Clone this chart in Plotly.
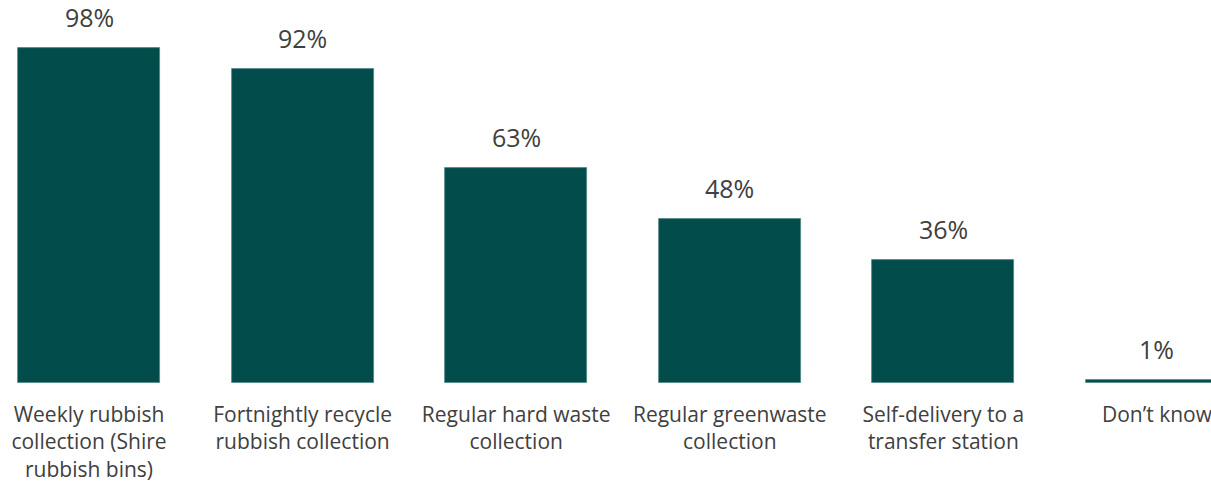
import plotly.graph_objects as go

categories = [
    "Weekly rubbish<br>collection (Shire<br>rubbish bins)",
    "Fortnightly recycle<br>rubbish collection",
    "Regular hard waste<br>collection",
    "Regular greenwaste<br>collection",
    "Self-delivery to a<br>transfer station",
    "Don’t know",
]
values = [98, 92, 63, 48, 36, 1]
labels = ["98%", "92%", "63%", "48%", "36%", "1%"]

BAR = "#024d4b"
TXT = "#404040"
FONT = "Open Sans"

xs = list(range(len(categories)))

fig = go.Figure()
fig.add_trace(go.Bar(
    x=xs, y=values, width=0.665,
    marker=dict(color=BAR, line=dict(color="#4f8785", width=0.8)),
    hoverinfo="skip",
))

for x, v, t in zip(xs, values, labels):
    fig.add_annotation(x=x, y=v, text=t, showarrow=False, yanchor="bottom",
                       yshift=12, font=dict(family=FONT, size=25, color=TXT))

fig.update_layout(
    width=1211, height=488,
    margin=dict(l=0, r=0, t=0, b=105),
    plot_bgcolor="white", paper_bgcolor="white",
    showlegend=False,
    bargap=0,
    xaxis=dict(range=[-0.4167, 5.253], tickmode="array", tickvals=xs,
               ticktext=categories, showgrid=False, zeroline=False,
               showline=False, ticks="", ticklabelstandoff=17,
               automargin=False, ticklabeloverflow="allow",
               tickfont=dict(family=FONT, size=21, color=TXT)),
    yaxis=dict(range=[0, 112.05], visible=False, showgrid=False),
)

fig.write_html("out.html", config={"displayModeBar": False},
               post_script="document.body.style.margin='0';")
